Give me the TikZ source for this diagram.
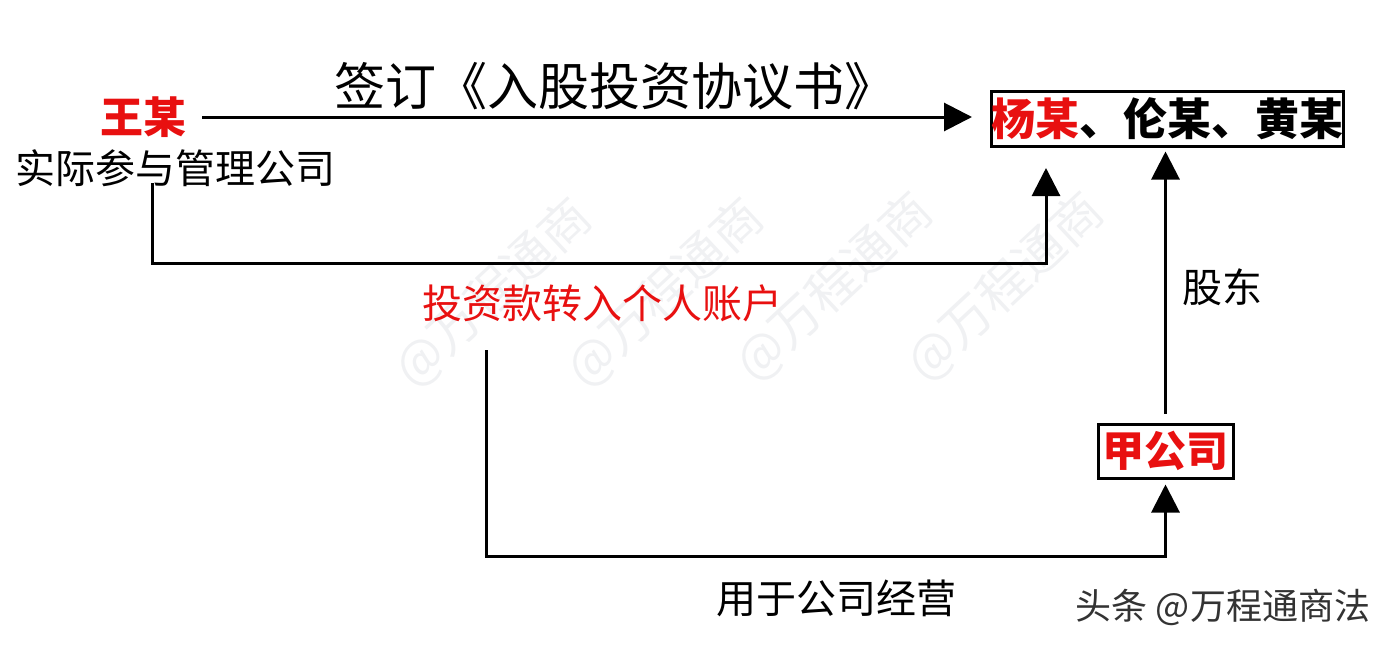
\documentclass[tikz,border=0pt]{standalone}
\usepackage{fontspec}
\newfontfamily\cjk{Noto Sans CJK SC}
\usetikzlibrary{arrows.meta}
\definecolor{myred}{RGB}{232,16,16}
\definecolor{wmgray}{RGB}{240,241,243}
\begin{document}
\begin{tikzpicture}[x=0.5pt,y=-0.5pt,
  lbl/.style={font=\cjk\fontsize{20pt}{24pt}\selectfont, inner sep=0pt},
  wm/.style={font=\cjk\fontsize{25pt}{30pt}\selectfont, text=wmgray, rotate=43, inner sep=0pt},
  arr/.style={line width=1.5pt, -{Triangle[length=14pt,width=14pt]}},
  boxn/.style={draw, line width=1.5pt, inner sep=0pt}]
\path[use as bounding box] (0,0) rectangle (1388,648);
% watermarks
\node[wm] (wm1) at (493,293) {@万程通商};
\node[wm] (wm2) at (665,293) {@万程通商};
\node[wm] (wm3) at (834,287) {@万程通商};
\node[wm] (wm4) at (1005,287) {@万程通商};
% nodes
\node[lbl, text=myred, font=\cjk\bfseries\fontsize{21.5pt}{24pt}\selectfont] (wang) at (143,117) {王某};
\node[lbl] (shiji) at (176,168) {实际参与管理公司};
\node[lbl, font=\cjk\fontsize{25.5pt}{30pt}\selectfont] (sign) at (615,86) {签订《入股投资协议书》};
\node[boxn, minimum width=175.5pt, minimum height=27.5pt, font=\cjk\bfseries\fontsize{22pt}{26pt}\selectfont] (yang) at (1167.5,118.5) {\textcolor{myred}{杨某}、伦某、黄某};
\node[boxn, minimum width=67.5pt, minimum height=27pt, text=myred, font=\cjk\bfseries\fontsize{21pt}{24pt}\selectfont] (jia) at (1165.5,451) {甲公司};
\node[lbl, text=myred] (touzi) at (602,303) {投资款转入个人账户};
\node[lbl] (gudong) at (1222,287) {股东};
\node[lbl] (yongyu) at (836,598) {用于公司经营};
\node[lbl, text=black!80, font=\cjk\fontsize{18pt}{20pt}\selectfont] (credit) at (1223,607) {头条 @万程通商法};
% coordinates for free ends
\coordinate (e1s) at (152,183);
\coordinate (e1t) at (1046,168);
\coordinate (e3s) at (486,350);
% connectors
\draw[arr] ([xshift=8pt]wang.east) -- ([xshift=-9pt]yang.west |- wang.east);
\draw[arr] (e1s) -- (e1s |- 0,263) -| (e1t);
\draw[arr, shorten <=4.5pt, shorten >=2pt] (jia.north) -- (jia.north |- yang.south);
\draw[arr, shorten >=2.5pt] (e3s) -- (e3s |- 0,556) -| (jia.south);
\end{tikzpicture}
\end{document}
